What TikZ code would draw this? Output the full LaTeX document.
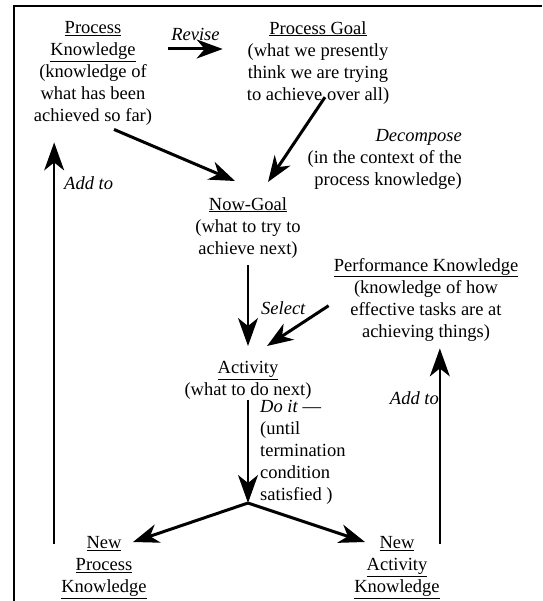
\documentclass[tikz,border=0pt]{standalone}
\usepackage{fontspec}
\setmainfont{Liberation Serif}
\usetikzlibrary{arrows.meta}
\begin{document}
\begin{tikzpicture}[x=1pt, y=-1pt,
    thick arrow/.style={-{Stealth[length=26pt,width=19pt,inset=8pt]}, line width=3pt},
    thin arrow/.style={-{Stealth[length=28pt,width=20pt,inset=8pt]}, line width=1.8pt},
    box node/.style={align=center, anchor=north, inner sep=0pt},
    note node/.style={inner sep=0pt}]
  \tikzstyle{every node}=[font=\fontsize{18.5}{22}\selectfont]
  \useasboundingbox (0,0) rectangle (542,601);
  \draw[line width=1.5pt] (542,6) -- (14,6) -- (14,601);

  \node[box node] (pk) at (93,21) {\underline{Process}\\ \underline{Knowledge}\\ (knowledge of\\ what has been\\ achieved so far)};
  \node[box node] (pg) at (318,21) {\underline{Process Goal}\\ (what we presently\\ think we are trying\\ to achieve over all)};
  \node[box node] (ng) at (248,197) {\underline{Now-Goal}\\ (what to try to\\ achieve next)};
  \node[box node] (perf) at (426,258) {\underline{Performance Knowledge}\\ (knowledge of how\\ effective tasks are at\\ achieving things)};
  \node[box node] (act) at (248,361) {\underline{Activity}\\ (what to do next)};
  \node[box node] (npk) at (104,536) {\underline{New}\\ \underline{Process}\\ \underline{Knowledge}};
  \node[box node] (nak) at (397,536) {\underline{New}\\ \underline{Activity}\\ \underline{Knowledge}};
  \coordinate (split) at (248,503);
  \coordinate (npk out) at ([shift={(-7,8)}]npk.north west);
  \coordinate (nak out) at ([shift={(0,8)}]nak.north east);

  \node[note node, anchor=north east, align=right] (decomp) at (462,129) {\textit{Decompose}\\ (in the context of the\\ process knowledge)};
  \node[note node, anchor=base west] (select) at (261,314) {\textit{Select}};
  \node[note node, anchor=base west] (addleft) at (64,190) {\textit{Add to}};
  \node[note node, anchor=base east] (addright) at (439,404) {\textit{Add to}};
  \node[note node, anchor=north west, align=left] (doit) at (260,400) {\textit{Do it} —\\ (until\\ termination\\ condition\\ satisfied )};

  % top of the loop
  \draw[thick arrow] ([shift={(16,28)}]pk.north east) -- node[note node, anchor=base, yshift=8pt] (revise) {\textit{Revise}} ([shift={(-24,28)}]pg.north west);
  \draw[thick arrow] ([shift={(21,4)}]pk.south) -- ([shift={(-13,-16)}]ng.north);
  \draw[thick arrow] ([shift={(7,-7)}]pg.south) -- ([shift={(20,-15)}]ng.north);
  \draw[thin arrow] ([shift={(0,7)}]ng.south) -- ([shift={(0,-15)}]act.north);
  \draw[thick arrow] ([shift={(-5,6)}]perf.west) -- ([shift={(19,-15)}]act.north);
  % doing the activity
  \draw[thin arrow] (act.south) -- (split);
  \draw[thick arrow] (split) -- ([shift={(29,6)}]npk.north);
  \draw[thick arrow] (split) -- ([shift={(-32,6)}]nak.north);
  % feeding back
  \draw[thin arrow, shorten >=17pt] (npk out) -- (npk out |- pk.south);
  \draw[thin arrow, shorten >=7pt] (nak out) -- (nak out |- perf.south);
\end{tikzpicture}
\end{document}
